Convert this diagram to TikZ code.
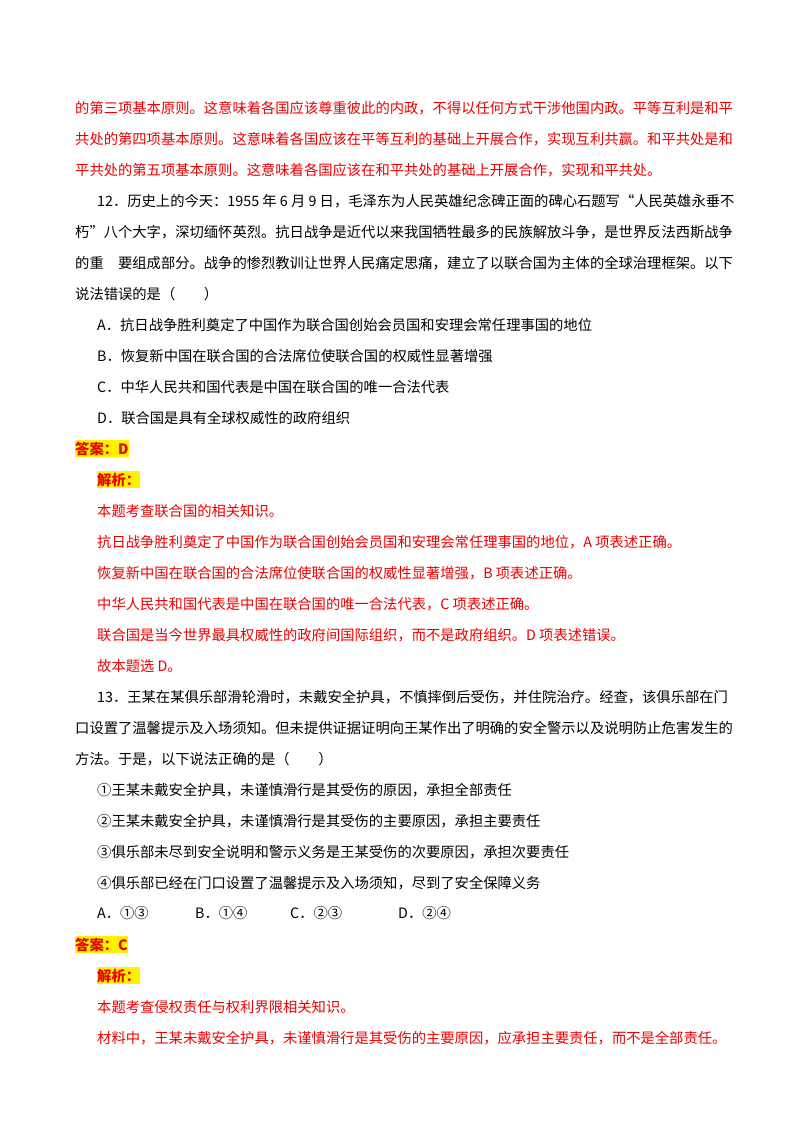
\documentclass[tikz,border=0pt]{standalone}
\usepackage{fontspec}
\setmainfont{Noto Sans CJK SC}
\definecolor{ans}{RGB}{235,0,0}
\begin{document}
\begin{tikzpicture}[x=1pt,y=-1pt,
  every node/.style={anchor=base west,inner sep=0pt,font=\fontsize{14.3}{17}\selectfont},
  r/.style={text=ans},
  hl/.style={text=ans,fill=yellow,font=\fontsize{14.3}{17}\selectfont\bfseries,inner ysep=2pt}]
\useasboundingbox (0,0) rectangle (800,1132);
\node[r] (l1) at (75,113) {的第三项基本原则。这意味着各国应该尊重彼此的内政，不得以任何方式干涉他国内政。平等互利是和平};
\node[r] (l2) at (75,144) {共处的第四项基本原则。这意味着各国应该在平等互利的基础上开展合作，实现互利共赢。和平共处是和};
\node[r] (l3) at (75,175) {平共处的第五项基本原则。这意味着各国应该在和平共处的基础上开展合作，实现和平共处。};
\node (l4) at (97,206) {12．历史上的今天：1955 年 6 月 9 日，毛泽东为人民英雄纪念碑正面的碑心石题写“人民英雄永垂不};
\node (l5) at (75,237) {朽”八个大字，深切缅怀英烈。抗日战争是近代以来我国牺牲最多的民族解放斗争，是世界反法西斯战争};
\node (l6) at (75,268) {的重　要组成部分。战争的惨烈教训让世界人民痛定思痛，建立了以联合国为主体的全球治理框架。以下};
\node (l7) at (75,299) {说法错误的是（　　）};
\node (l8) at (97,330) {A．抗日战争胜利奠定了中国作为联合国创始会员国和安理会常任理事国的地位};
\node (l9) at (97,361) {B．恢复新中国在联合国的合法席位使联合国的权威性显著增强};
\node (l10) at (97,392) {C．中华人民共和国代表是中国在联合国的唯一合法代表};
\node (l11) at (97,423) {D．联合国是具有全球权威性的政府组织};
\node[hl] (a1) at (75,454) {答案：D};
\node[hl] (j1) at (97,485) {解析：};
\node[r] (l12) at (97,516) {本题考查联合国的相关知识。};
\node[r] (l13) at (97,547) {抗日战争胜利奠定了中国作为联合国创始会员国和安理会常任理事国的地位，A 项表述正确。};
\node[r] (l14) at (97,578) {恢复新中国在联合国的合法席位使联合国的权威性显著增强，B 项表述正确。};
\node[r] (l15) at (97,609) {中华人民共和国代表是中国在联合国的唯一合法代表，C 项表述正确。};
\node[r] (l16) at (97,640) {联合国是当今世界最具权威性的政府间国际组织，而不是政府组织。D 项表述错误。};
\node[r] (l17) at (97,671) {故本题选 D。};
\node (l18) at (97,702) {13．王某在某俱乐部滑轮滑时，未戴安全护具，不慎摔倒后受伤，并住院治疗。经查，该俱乐部在门};
\node (l19) at (75,733) {口设置了温馨提示及入场须知。但未提供证据证明向王某作出了明确的安全警示以及说明防止危害发生的};
\node (l20) at (75,764) {方法。于是，以下说法正确的是（　　）};
\node (l21) at (97,795) {①王某未戴安全护具，未谨慎滑行是其受伤的原因，承担全部责任};
\node (l22) at (97,826) {②王某未戴安全护具，未谨慎滑行是其受伤的主要原因，承担主要责任};
\node (l23) at (97,857) {③俱乐部未尽到安全说明和警示义务是王某受伤的次要原因，承担次要责任};
\node (l24) at (97,888) {④俱乐部已经在门口设置了温馨提示及入场须知，尽到了安全保障义务};
\node (o1) at (97,918) {A．①③};
\node (o2) at (195,918) {B．①④};
\node (o3) at (290,918) {C．②③};
\node (o4) at (398,918) {D．②④};
\node[hl] (a2) at (75,950) {答案：C};
\node[hl] (j2) at (97,981) {解析：};
\node[r] (l25) at (97,1012) {本题考查侵权责任与权利界限相关知识。};
\node[r] (l26) at (97,1043) {材料中，王某未戴安全护具，未谨慎滑行是其受伤的主要原因，应承担主要责任，而不是全部责任。};
\end{tikzpicture}
\end{document}
